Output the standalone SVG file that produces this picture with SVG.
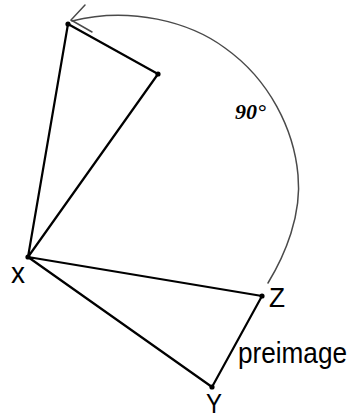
<svg xmlns="http://www.w3.org/2000/svg" width="363" height="419" viewBox="0 0 363 419">
<style>
.edge{stroke:#000;stroke-width:2.2;fill:none;stroke-linejoin:round;stroke-linecap:round}
.arc{stroke:#4a4a4a;stroke-width:1.5;fill:none;stroke-linecap:round}
.dot{fill:#000}
.lbl{font-family:"Liberation Sans",Arial,sans-serif;fill:#000}
.ang{font-family:"Liberation Serif","Times New Roman",serif;font-weight:bold;font-style:italic;fill:#000}
</style>
<rect width="363" height="419" fill="#fff"/>
<g id="connectors">
<path class="edge" d="M28,257 L68,24 L158,74 Z"/>
<path class="edge" d="M28,257 L262,296 L212,387 Z"/>
<path class="arc" d="M268,283 C285,255 302,215 298,175 C294,130 270,80 225,48 C190,22 130,6 72,21"/>
<path class="arc" d="M85,5 L71,20 L92,32"/>
</g>
<g id="node-X"><circle class="dot" cx="28" cy="257" r="2.6"/><text class="lbl" x="11" y="283" font-size="29" textLength="14" lengthAdjust="spacingAndGlyphs">x</text></g>
<g id="node-Z"><circle class="dot" cx="262" cy="296" r="2.6"/><text class="lbl" x="269" y="307" font-size="28" textLength="16" lengthAdjust="spacingAndGlyphs">Z</text></g>
<g id="node-Y"><circle class="dot" cx="212" cy="387" r="2.6"/><text class="lbl" x="206" y="413" font-size="27" textLength="16" lengthAdjust="spacingAndGlyphs">Y</text></g>
<g id="node-A"><circle class="dot" cx="68" cy="24" r="2.6"/></g>
<g id="node-B"><circle class="dot" cx="158" cy="74" r="2.6"/></g>
<g id="label-preimage"><text class="lbl" x="238" y="363" font-size="29" textLength="109" lengthAdjust="spacingAndGlyphs">preimage</text></g>
<g id="label-angle"><text class="ang" x="235" y="119" font-size="22">90°</text></g>
</svg>
